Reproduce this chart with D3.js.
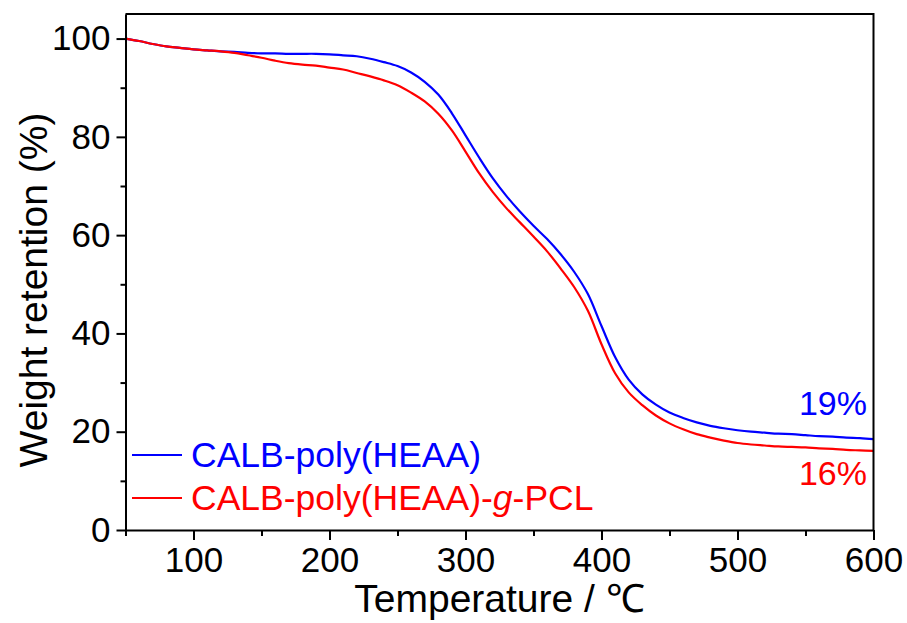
<!DOCTYPE html>
<html>
<head>
<meta charset="utf-8">
<script src="https://cdn.jsdelivr.net/npm/d3@7"></script>
<style>
  html, body { margin: 0; padding: 0; background: #fff; }
  svg { display: block; }
  text { font-family: Arial, "Liberation Sans", Helvetica, sans-serif; }
</style>
</head>
<body>
<svg id="chart" width="907" height="623"></svg>
<script>
// Temperature grid (°C)
const temperature = [50,60,70,80,90,100,110,120,130,140,150,160,170,180,190,200,210,220,230,240,250,260,270,280,290,300,310,320,330,340,350,360,370,380,390,400,410,420,430,440,450,460,470,480,490,500,510,520,530,540,550,560,570,580,590,600];

// Weight retention (%) of CALB-poly(HEAA)
const retentionHEAA = [100.0,99.5,98.9,98.4,98.1,97.8,97.6,97.4,97.3,97.1,97.0,97.0,96.9,96.9,96.9,96.8,96.6,96.4,95.9,95.2,94.4,93.1,91.2,88.6,84.8,80.3,75.8,71.6,68.0,64.8,61.9,59.2,56.1,52.5,48.0,41.5,35.2,30.6,27.6,25.5,23.9,22.8,21.9,21.2,20.7,20.3,20.0,19.8,19.6,19.5,19.3,19.1,19.0,18.8,18.7,18.5];

// Weight retention (%) of CALB-poly(HEAA)-g-PCL
const retentionPCL = [100.0,99.5,98.9,98.4,98.1,97.8,97.6,97.4,97.1,96.6,96.1,95.5,95.0,94.7,94.5,94.1,93.7,93.0,92.3,91.5,90.5,89.0,87.2,84.7,81.3,77.0,72.6,68.8,65.5,62.6,59.7,56.7,53.2,49.4,44.6,37.8,31.9,28.0,25.4,23.3,21.7,20.5,19.5,18.8,18.2,17.7,17.4,17.2,17.0,16.9,16.8,16.6,16.5,16.3,16.2,16.1];

const xMajorTicks = [100,200,300,400,500,600];
const xMinorTicks = [50,150,250,350,450,550];
const yMajorTicks = [0,20,40,60,80,100];
const yMinorTicks = [10,30,50,70,90];

const residueLabels = ["19%", "16%"];
const residueValues = [19, 16];

const seriesNames = ["CALB-poly(HEAA)", "CALB-poly(HEAA)-g-PCL"];
const seriesColors = ["#0000ff", "#ff0000"];

const svg = d3.select("#chart");
const margin = { left: 125.5, right: 907 - 873.5, top: 14, bottom: 623 - 530 };
const W = 907, H = 623;

const x = d3.scaleLinear().domain([50, 600]).range([margin.left, W - margin.right]);
const y = d3.scaleLinear().domain([0, 105]).range([H - margin.bottom, margin.top]);

// curves
const line = d3.line()
  .x(d => x(d[0]))
  .y(d => y(d[1]))
  .curve(d3.curveCatmullRom.alpha(0.5));

const seriesData = [retentionHEAA, retentionPCL].map(vals => temperature.map((t, i) => [t, vals[i]]));

svg.append("g").selectAll("path")
  .data(seriesData)
  .join("path")
  .attr("d", line)
  .attr("fill", "none")
  .attr("stroke", (d, i) => seriesColors[i])
  .attr("stroke-width", 2.2)
  .attr("stroke-linejoin", "round");

// frame (top and right edges)
svg.append("path")
  .attr("d", `M${x(50)},${y(105)}H${x(600)}V${y(0)}`)
  .attr("fill", "none")
  .attr("stroke", "#000")
  .attr("stroke-width", 2);

// axes
const tickFont = 35;
const xAxis = svg.append("g")
  .attr("transform", `translate(0,${y(0)})`)
  .call(d3.axisBottom(x).tickValues(xMajorTicks).tickSize(10).tickSizeOuter(0).tickPadding(7).tickFormat(d3.format("d")));
svg.append("g")
  .attr("transform", `translate(0,${y(0)})`)
  .call(d3.axisBottom(x).tickValues(xMinorTicks).tickSize(6).tickSizeOuter(0).tickFormat(""))
  .select(".domain").remove();

const yAxis = svg.append("g")
  .attr("transform", `translate(${x(50)},0)`)
  .call(d3.axisLeft(y).tickValues(yMajorTicks).tickSize(9).tickSizeOuter(0).tickPadding(6).tickFormat(d3.format("d")));
svg.append("g")
  .attr("transform", `translate(${x(50)},0)`)
  .call(d3.axisLeft(y).tickValues(yMinorTicks).tickSize(5).tickSizeOuter(0).tickFormat(""))
  .select(".domain").remove();

svg.selectAll(".domain").attr("stroke-width", 2).attr("stroke", "#000");
svg.selectAll(".tick line").attr("stroke-width", 2).attr("stroke", "#000");
xAxis.selectAll(".tick text")
  .attr("font-size", tickFont)
  .attr("font-family", "Arial, 'Liberation Sans', sans-serif")
  .attr("fill", "#000");
yAxis.selectAll(".tick text")
  .attr("font-size", tickFont)
  .attr("font-family", "Arial, 'Liberation Sans', sans-serif")
  .attr("fill", "#000");

// axis titles
svg.append("text")
  .attr("x", (x(50) + x(600)) / 2)
  .attr("y", 612)
  .attr("text-anchor", "middle")
  .attr("font-size", 39)
  .text("Temperature / ℃");

svg.append("text")
  .attr("transform", `translate(47,${(y(0) + y(105)) / 2 + 18}) rotate(-90)`)
  .attr("text-anchor", "middle")
  .attr("font-size", 39)
  .text("Weight retention (%)");

// legend
const legendY = [455, 498];
const legend = svg.append("g");
legendY.forEach((ly, i) => {
  legend.append("line")
    .attr("x1", 132).attr("x2", 182)
    .attr("y1", ly).attr("y2", ly)
    .attr("stroke", seriesColors[i])
    .attr("stroke-width", 2.2);
});
legend.append("text")
  .attr("x", 191).attr("y", legendY[0] + 12)
  .attr("font-size", 35.5)
  .attr("fill", seriesColors[0])
  .text(seriesNames[0]);
const t2 = legend.append("text")
  .attr("x", 191).attr("y", legendY[1] + 12)
  .attr("font-size", 35.5)
  .attr("fill", seriesColors[1]);
t2.append("tspan").text("CALB-poly(HEAA)-");
t2.append("tspan").attr("font-style", "italic").text("g");
t2.append("tspan").text("-PCL");

// residue annotations at 600 °C
svg.append("text")
  .attr("x", 867).attr("y", y(residueValues[0]) - 22)
  .attr("text-anchor", "end")
  .attr("font-size", 34)
  .attr("fill", seriesColors[0])
  .text(residueLabels[0]);
svg.append("text")
  .attr("x", 867).attr("y", y(residueValues[1]) + 34)
  .attr("text-anchor", "end")
  .attr("font-size", 34)
  .attr("fill", seriesColors[1])
  .text(residueLabels[1]);
</script>
</body>
</html>
